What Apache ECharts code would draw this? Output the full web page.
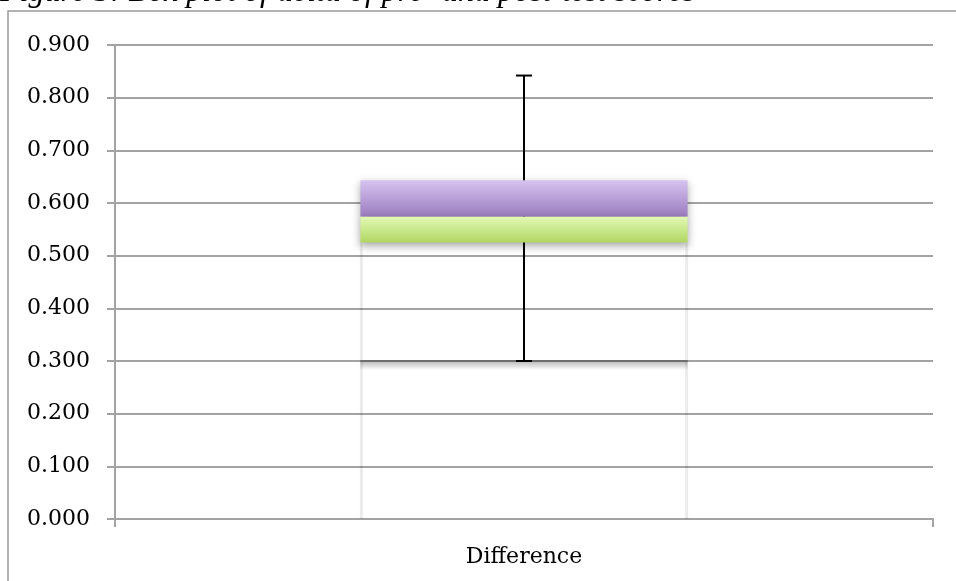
<!DOCTYPE html>
<html>
<head>
<meta charset="utf-8">
<script src="https://cdn.jsdelivr.net/npm/echarts@6/dist/echarts.min.js"></script>
<style>
  html, body { margin: 0; padding: 0; background: #ffffff; }
  #chart { width: 956px; height: 581px; }
</style>
</head>
<body>
<div id="chart"></div>
<script>
// Box plot of the pre/post-test score difference, built as a stacked bar
const categories = ['Difference'];
const yTicks = [0, 0.1, 0.2, 0.3, 0.4, 0.5, 0.6, 0.7, 0.8, 0.9];
const boxBase = [0.300];     // lower edge of the box
const boxMid = [0.525];      // top of the open (white) section
const boxUpper = [0.574];    // top of the green section
const boxTop = [0.643];      // top of the purple section
const whiskerLow = [0.300];
const whiskerHigh = [0.842];

const AXIS_GREY = '#a3a3a3';
const LABEL_FONT = 'DejaVu Serif';

const chart = echarts.init(document.getElementById('chart'), null, { renderer: 'canvas' });

// Stack increments derived from the box edges
const segBase = boxBase.slice();
const segLow = boxMid.map((v, i) => +(v - boxBase[i]).toFixed(4));
const segGreen = boxUpper.map((v, i) => +(v - boxMid[i]).toFixed(4));
const segPurple = boxTop.map((v, i) => +(v - boxUpper[i]).toFixed(4));

const BAR_RATIO = 0.4;

chart.setOption({
  animation: false,
  backgroundColor: '#ffffff',
  graphic: [
    {
      type: 'text', left: 0, top: -23, z: 10,
      style: {
        text: 'Figure 5: Box plot of delta of pre- and post-test scores',
        font: 'italic 32px "Liberation Serif"',
        fill: '#000000'
      }
    },
    {
      type: 'polyline', z: 10,
      shape: { points: [[8, 581], [8, 11], [956, 11]] },
      style: { stroke: '#9a9a9a', lineWidth: 1.5, fill: null }
    }
  ],
  grid: { left: 115, right: 23, top: 45, bottom: 62 },
  xAxis: {
    type: 'category',
    data: categories,
    boundaryGap: true,
    axisLine: { show: true, lineStyle: { color: AXIS_GREY, width: 2 } },
    axisTick: { show: true, length: 8, inside: false, lineStyle: { color: AXIS_GREY, width: 2 } },
    axisLabel: { color: '#000000', fontFamily: LABEL_FONT, fontSize: 22, margin: 27 },
    splitLine: { show: false }
  },
  yAxis: {
    type: 'value',
    min: yTicks[0],
    max: yTicks[yTicks.length - 1],
    interval: 0.1,
    axisLine: { show: true, lineStyle: { color: AXIS_GREY, width: 2 } },
    axisTick: { show: true, length: 8, inside: false, lineStyle: { color: AXIS_GREY, width: 2 } },
    axisLabel: {
      color: '#000000', fontFamily: LABEL_FONT, fontSize: 22, margin: 25,
      formatter: v => v.toFixed(3)
    },
    splitLine: { show: true, lineStyle: { color: AXIS_GREY, width: 2 } }
  },
  series: [
    {
      name: 'base', type: 'bar', stack: 'box', barWidth: (BAR_RATIO * 100) + '%',
      data: segBase, z: 2, silent: true,
      itemStyle: { color: 'rgba(0,0,0,0)' }
    },
    {
      name: 'lower', type: 'bar', stack: 'box',
      data: segLow, z: 2, silent: true,
      itemStyle: { color: 'rgba(0,0,0,0)' }
    },
    {
      name: 'upper', type: 'bar', stack: 'box',
      data: segGreen, z: 6, silent: true,
      itemStyle: {
        color: new echarts.graphic.LinearGradient(0, 0, 0, 1, [
          { offset: 0, color: '#e2f9b4' },
          { offset: 1, color: '#b1d663' }
        ]),
        shadowColor: 'rgba(0,0,0,0.35)', shadowBlur: 8, shadowOffsetY: 3
      }
    },
    {
      name: 'top', type: 'bar', stack: 'box',
      data: segPurple, z: 5, silent: true,
      itemStyle: {
        color: new echarts.graphic.LinearGradient(0, 0, 0, 1, [
          { offset: 0, color: '#d6c3f0' },
          { offset: 1, color: '#9a7cbe' }
        ]),
        shadowColor: 'rgba(0,0,0,0.3)', shadowBlur: 8, shadowOffsetY: 3
      }
    },
    {
      // faint outline of the open part of the box and its lower edge with shadow
      name: 'outline', type: 'custom', z: 3, silent: true,
      data: categories.map((c, i) => [i, boxBase[i], boxMid[i]]),
      encode: { x: 0, y: [1, 2] },
      renderItem: function (params, api) {
        const x = api.value(0);
        const w = api.size([1, 0])[0] * BAR_RATIO;
        const pZero = api.coord([x, 0]);
        const pBase = api.coord([x, api.value(1)]);
        const pMid = api.coord([x, api.value(2)]);
        const left = pZero[0] - w / 2, right = pZero[0] + w / 2;
        const faint = { stroke: 'rgba(0,0,0,0.08)', lineWidth: 3 };
        return {
          type: 'group',
          children: [
            { type: 'line', shape: { x1: left + 1, y1: pZero[1], x2: left + 1, y2: pMid[1] }, style: faint },
            { type: 'line', shape: { x1: right - 1, y1: pZero[1], x2: right - 1, y2: pMid[1] }, style: faint },
            {
              type: 'rect',
              shape: { x: left, y: pBase[1], width: w, height: 9 },
              style: {
                fill: new echarts.graphic.LinearGradient(0, 0, 0, 1, [
                  { offset: 0, color: 'rgba(0,0,0,0.28)' },
                  { offset: 1, color: 'rgba(0,0,0,0)' }
                ])
              }
            },
            { type: 'line', shape: { x1: left, y1: pBase[1], x2: right, y2: pBase[1] }, style: { stroke: '#6e6e6e', lineWidth: 2 } }
          ]
        };
      }
    },
    {
      name: 'whisker', type: 'custom', z: 4, silent: true,
      data: categories.map((c, i) => [i, whiskerLow[i], whiskerHigh[i]]),
      encode: { x: 0, y: [1, 2] },
      renderItem: function (params, api) {
        const x = api.value(0);
        const lo = api.coord([x, api.value(1)]);
        const hi = api.coord([x, api.value(2)]);
        const cap = 8;
        const st = { stroke: '#000000', lineWidth: 2 };
        return {
          type: 'group',
          children: [
            { type: 'line', shape: { x1: lo[0], y1: lo[1], x2: hi[0], y2: hi[1] }, style: st },
            { type: 'line', shape: { x1: lo[0] - cap, y1: lo[1], x2: lo[0] + cap, y2: lo[1] }, style: st },
            { type: 'line', shape: { x1: hi[0] - cap, y1: hi[1], x2: hi[0] + cap, y2: hi[1] }, style: st }
          ]
        };
      }
    }
  ]
});
</script>
</body>
</html>
